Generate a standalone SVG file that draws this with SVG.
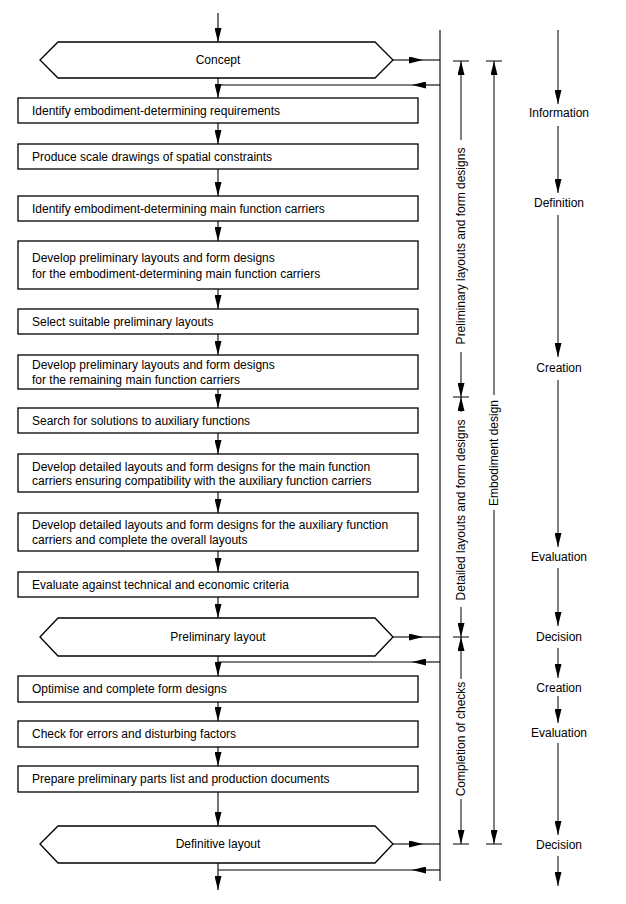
<svg xmlns="http://www.w3.org/2000/svg" width="626" height="904" viewBox="0 0 626 904">
<style>
.box{fill:#fff;stroke:#000;stroke-width:1.3}
.t{font-family:"Liberation Sans",Arial,sans-serif;font-size:12px;fill:#000}
.c{text-anchor:middle}
.ln{fill:none;stroke:#000;stroke-width:1.1}
.thin{fill:none;stroke:#000;stroke-width:1}
</style>
<defs>
<marker id="ah" viewBox="0 0 14 7" refX="14" refY="3.5" markerWidth="14" markerHeight="7" markerUnits="userSpaceOnUse" orient="auto-start-reverse">
<path d="M0,0 L14,3.5 L0,7 z" fill="#000"/>
</marker>
</defs>
<rect width="626" height="904" fill="#fff"/>

<g id="connectors">
<path class="ln" d="M218,13 V42" marker-end="url(#ah)"/>
<path class="ln" d="M218,78 V98" marker-end="url(#ah)"/>
<path class="ln" d="M218,123 V144" marker-end="url(#ah)"/>
<path class="ln" d="M218,169 V196" marker-end="url(#ah)"/>
<path class="ln" d="M218,221 V241" marker-end="url(#ah)"/>
<path class="ln" d="M218,289 V309" marker-end="url(#ah)"/>
<path class="ln" d="M218,334 V355" marker-end="url(#ah)"/>
<path class="ln" d="M218,389 V408" marker-end="url(#ah)"/>
<path class="ln" d="M218,433 V454" marker-end="url(#ah)"/>
<path class="ln" d="M218,492 V513" marker-end="url(#ah)"/>
<path class="ln" d="M218,551 V572" marker-end="url(#ah)"/>
<path class="ln" d="M218,597 V618" marker-end="url(#ah)"/>
<path class="ln" d="M218,656 V676" marker-end="url(#ah)"/>
<path class="ln" d="M218,702 V721" marker-end="url(#ah)"/>
<path class="ln" d="M218,747 V766" marker-end="url(#ah)"/>
<path class="ln" d="M218,792 V826" marker-end="url(#ah)"/>
<path class="ln" d="M218,863 V890" marker-end="url(#ah)"/>
<!-- feedback bar -->
<path class="ln" d="M440,30 V881"/>
<path class="ln" d="M393,60 H423" marker-end="url(#ah)"/>
<path class="ln" d="M423,60 H440"/>
<path class="ln" d="M440,85 H412" marker-end="url(#ah)"/>
<path class="ln" d="M412,85 H218"/>
<path class="ln" d="M393,637 H423" marker-end="url(#ah)"/>
<path class="ln" d="M423,637 H440"/>
<path class="ln" d="M440,662 H412" marker-end="url(#ah)"/>
<path class="ln" d="M412,662 H218"/>
<path class="ln" d="M393,844 H423" marker-end="url(#ah)"/>
<path class="ln" d="M423,844 H440"/>
<path class="ln" d="M440,870 H412" marker-end="url(#ah)"/>
<path class="ln" d="M412,870 H218"/>
<!-- dimension lines -->
<path class="thin" d="M453,61 H469 M453,397 H469 M453,637 H469 M453,844 H469 M486,61 H502 M486,844 H502"/>
<path class="thin" d="M461,140 V61" marker-end="url(#ah)"/>
<path class="thin" d="M461,352 V397" marker-end="url(#ah)"/>
<path class="thin" d="M461,412 V397" marker-end="url(#ah)"/>
<path class="thin" d="M461,607 V637" marker-end="url(#ah)"/>
<path class="thin" d="M461,679 V637" marker-end="url(#ah)"/>
<path class="thin" d="M461,799 V844" marker-end="url(#ah)"/>
<path class="thin" d="M494,395 V61" marker-end="url(#ah)"/>
<path class="thin" d="M494,510 V844" marker-end="url(#ah)"/>
<!-- activity column -->
<path class="thin" d="M558,30 V104" marker-end="url(#ah)"/>
<path class="thin" d="M558,126 V193" marker-end="url(#ah)"/>
<path class="thin" d="M558,215 V357" marker-end="url(#ah)"/>
<path class="thin" d="M558,380 V547" marker-end="url(#ah)"/>
<path class="thin" d="M558,568 V626" marker-end="url(#ah)"/>
<path class="thin" d="M558,648 V678" marker-end="url(#ah)"/>
<path class="thin" d="M558,696 V723" marker-end="url(#ah)"/>
<path class="thin" d="M558,743 V835" marker-end="url(#ah)"/>
<path class="thin" d="M558,856 V886" marker-end="url(#ah)"/>
</g>

<g id="concept">
<polygon class="box" points="40,60 58,42 375,42 393,60 375,78 58,78"/>
<text class="t c" x="218" y="64">Concept</text>
</g>
<g id="b1"><rect class="box" x="18" y="98" width="400" height="25"/><text class="t" x="32" y="115">Identify embodiment-determining requirements</text></g>
<g id="b2"><rect class="box" x="18" y="144" width="400" height="25"/><text class="t" x="32" y="161">Produce scale drawings of spatial constraints</text></g>
<g id="b3"><rect class="box" x="18" y="196" width="400" height="25"/><text class="t" x="32" y="213">Identify embodiment-determining main function carriers</text></g>
<g id="b4"><rect class="box" x="18" y="241" width="400" height="48"/><text class="t" x="32" y="262">Develop preliminary layouts and form designs</text><text class="t" x="32" y="278">for the embodiment-determining main function carriers</text></g>
<g id="b5"><rect class="box" x="18" y="309" width="400" height="25"/><text class="t" x="32" y="326">Select suitable preliminary layouts</text></g>
<g id="b6"><rect class="box" x="18" y="355" width="400" height="34"/><text class="t" x="32" y="369">Develop preliminary layouts and form designs</text><text class="t" x="32" y="384">for the remaining main function carriers</text></g>
<g id="b7"><rect class="box" x="18" y="408" width="400" height="25"/><text class="t" x="32" y="425">Search for solutions to auxiliary functions</text></g>
<g id="b8"><rect class="box" x="18" y="454" width="400" height="38"/><text class="t" x="32" y="471">Develop detailed layouts and form designs for the main function</text><text class="t" x="32" y="485">carriers ensuring compatibility with the auxiliary function carriers</text></g>
<g id="b9"><rect class="box" x="18" y="513" width="400" height="38"/><text class="t" x="32" y="529">Develop detailed layouts and form designs for the auxiliary function</text><text class="t" x="32" y="544">carriers and complete the overall layouts</text></g>
<g id="b10"><rect class="box" x="18" y="572" width="400" height="25"/><text class="t" x="32" y="589">Evaluate against technical and economic criteria</text></g>
<g id="prelim">
<polygon class="box" points="40,637 58,618 375,618 393,637 375,656 58,656"/>
<text class="t c" x="218" y="641">Preliminary layout</text>
</g>
<g id="b11"><rect class="box" x="18" y="676" width="400" height="26"/><text class="t" x="32" y="693">Optimise and complete form designs</text></g>
<g id="b12"><rect class="box" x="18" y="721" width="400" height="26"/><text class="t" x="32" y="738">Check for errors and disturbing factors</text></g>
<g id="b13"><rect class="box" x="18" y="766" width="400" height="26"/><text class="t" x="32" y="783">Prepare preliminary parts list and production documents</text></g>
<g id="definitive">
<polygon class="box" points="40,844 58,826 375,826 393,844 375,863 58,863"/>
<text class="t c" x="218" y="848">Definitive layout</text>
</g>

<g id="phase-labels">
<text class="t c" transform="translate(465,246) rotate(-90)">Preliminary layouts and form designs</text>
<text class="t c" transform="translate(465,510) rotate(-90)">Detailed layouts and form designs</text>
<text class="t c" transform="translate(465,739) rotate(-90)">Completion of checks</text>
<text class="t c" transform="translate(498,453) rotate(-90)">Embodiment design</text>
</g>

<g id="activities">
<text class="t c" x="559" y="117">Information</text>
<text class="t c" x="559" y="207">Definition</text>
<text class="t c" x="559" y="372">Creation</text>
<text class="t c" x="559" y="561">Evaluation</text>
<text class="t c" x="559" y="641">Decision</text>
<text class="t c" x="559" y="692">Creation</text>
<text class="t c" x="559" y="737">Evaluation</text>
<text class="t c" x="559" y="849">Decision</text>
</g>
</svg>
